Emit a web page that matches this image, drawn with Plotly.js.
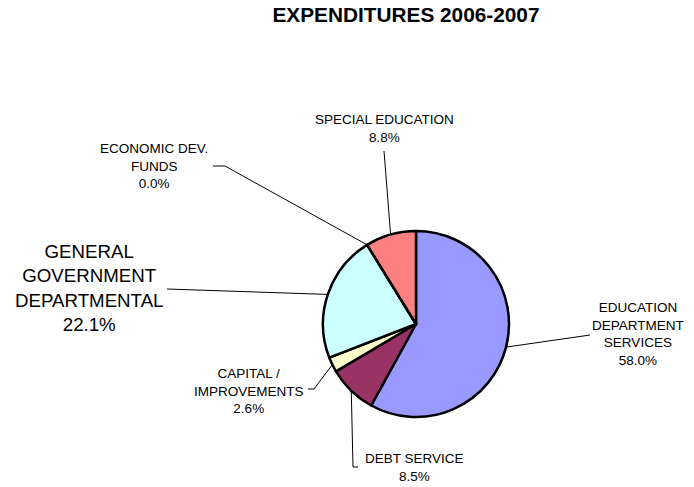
<!DOCTYPE html>
<html>
<head>
<meta charset="utf-8">
<script src="https://cdn.plot.ly/plotly-3.0.1.min.js"></script>
<style>html,body{margin:0;padding:0;background:#fff;}#chart{width:694px;height:487px;}</style>
</head>
<body>
<div id="chart"></div>
<script>
// ---- data ----
const categories = ["EDUCATION DEPARTMENT SERVICES", "DEBT SERVICE", "CAPITAL / IMPROVEMENTS",
  "GENERAL GOVERNMENT DEPARTMENTAL", "ECONOMIC DEV. FUNDS", "SPECIAL EDUCATION"];
const labelText = ["EDUCATION<br>DEPARTMENT<br>SERVICES", "DEBT SERVICE", "CAPITAL /<br>IMPROVEMENTS",
  "GENERAL<br>GOVERNMENT<br>DEPARTMENTAL", "ECONOMIC DEV.<br>FUNDS", "SPECIAL EDUCATION"];
const percents = [58.0, 8.5, 2.6, 22.1, 0.0, 8.8];
const colors = ["#9999FF", "#993366", "#FFFFCC", "#CCFFFF", "#FFFF99", "#FF8080"];

// ---- layout constants (pixels) ----
const W = 694, H = 487;
const CX = 416, CY = 324, R = 93;
// label block centres and leader-line end points on the label side
const labelPos = [[638, 334], [414, 467], [249, 391], [89, 288], [154, 166], [384, 128]];
const labelSize = [13.5, 13.5, 13.5, 18.7, 13.5, 13.5];
const leaderEnds = [
  [[590, 335]],
  [[353, 467], [358, 467]],
  [[314, 389], [308, 389]],
  [[167, 289]],
  [[225, 166], [213, 166]],
  [[384, 151]]
];

const px = x => x / W;
const py = y => 1 - y / H;

const total = percents.reduce((a, b) => a + b, 0);
const annotations = [];
const shapes = [];
let cum = 0;
percents.forEach((v, i) => {
  const mid = (cum + v / 2) / total * 2 * Math.PI; // clockwise from top
  cum += v;
  const ax = CX + R * Math.sin(mid);
  const ay = CY - R * Math.cos(mid);
  const pts = [[ax, ay]].concat(leaderEnds[i]);
  const path = pts.map((p, k) => (k ? "L" : "M") + px(p[0]) + "," + py(p[1])).join(" ");
  shapes.push({type: "path", xref: "paper", yref: "paper", path: path,
    line: {color: "#000", width: 1}});
  annotations.push({
    xref: "paper", yref: "paper", x: px(labelPos[i][0]), y: py(labelPos[i][1]),
    xanchor: "center", yanchor: "middle", showarrow: false, align: "center",
    text: labelText[i] + "<br>" + v.toFixed(1) + "%",
    font: {family: "Liberation Sans, Arial, sans-serif", size: labelSize[i], color: "#000"}
  });
});

const trace = {
  type: "pie",
  labels: categories,
  values: percents,
  sort: false,
  direction: "clockwise",
  rotation: 0,
  textinfo: "none",
  hoverinfo: "label+percent",
  marker: {colors: colors, line: {color: "#000", width: 2.5}},
  domain: {x: [px(CX - R), px(CX + R)], y: [py(CY + R), py(CY - R)]},
  showlegend: false
};

const layout = {
  width: W, height: H,
  margin: {l: 0, r: 0, t: 0, b: 0},
  paper_bgcolor: "#fff",
  showlegend: false,
  title: {text: "<b>EXPENDITURES 2006-2007</b>", x: px(406), y: py(15),
    xanchor: "center", yanchor: "middle",
    font: {family: "Liberation Sans, Arial, sans-serif", size: 20.8, color: "#000"}},
  annotations: annotations,
  shapes: shapes
};

Plotly.newPlot("chart", [trace], layout, {displayModeBar: false, staticPlot: true});
</script>
</body>
</html>
